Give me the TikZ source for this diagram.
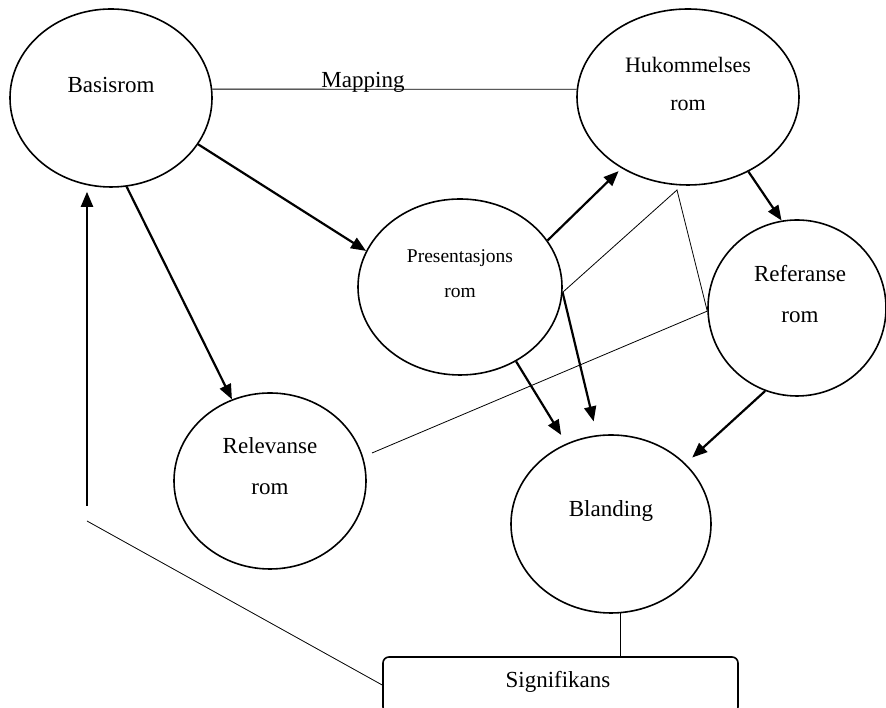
\documentclass[tikz,border=0pt]{standalone}
\usepackage{fontspec}
\setmainfont{Liberation Serif}
\usetikzlibrary{arrows.meta,shapes.geometric}
\begin{document}
\begin{tikzpicture}[x=1pt,y=1pt,
  blob/.style={draw, ellipse, line width=1.6pt, inner sep=0pt},
  lbl/.style={font=\fontsize{23}{41}\selectfont, align=center, anchor=base, inner sep=0pt},
  arr/.style={line width=2.2pt, -{Triangle[length=15pt,width=12pt]}},
  thinline/.style={line width=0.8pt}
]
\useasboundingbox (0,0) rectangle (886,708);
\fill[white] (0,0) rectangle (886,708);
% ellipses
\node[blob, minimum width=202pt, minimum height=178pt] (basis) at (111,610) {};
\node[blob, minimum width=222pt, minimum height=176pt] (huk) at (688,611) {};
\node[blob, minimum width=204pt, minimum height=176pt] (pres) at (460,421) {};
\node[blob, minimum width=178pt, minimum height=176pt] (ref) at (797,400) {};
\node[blob, minimum width=192pt, minimum height=176pt] (relev) at (270,227) {};
\node[blob, minimum width=200pt, minimum height=178pt] (bland) at (611,184) {};
\node[draw, rounded corners=6pt, line width=1.6pt, minimum width=355pt, minimum height=56pt, inner sep=0pt] (sig) at (560.5,23) {};
% texts (base = baseline of last line)
\node[lbl] (basis-t) at (111,615) {Basisrom};
\node[lbl] (map-t) at (363,620) {Mapping};
\node[lbl, font=\fontsize{22}{38}\selectfont] (huk-t) at (688,597) {Hukommelses\\rom};
\node[lbl, font=\fontsize{19.5}{35}\selectfont] (pres-t) at (460,410) {Presentasjons\\rom};
\node[lbl] (ref-t) at (800,385) {Referanse\\rom};
\node[lbl] (relev-t) at (270,213) {Relevanse\\rom};
\node[lbl] (bland-t) at (611,191) {Blanding};
\node[lbl] (sig-t) at (558,20) {Signifikans};
% free ends
\coordinate (upstart) at (87,202);
\coordinate (lowstart) at (87,187);
\coordinate (hukfoot) at (677,518);
\coordinate (relevpt) at (372,255);
% connectors
\draw[thinline] (basis.5) -- (huk.176);
\draw[arr] (basis.-28) -- (pres.159);
\draw[arr] (basis.-80) -- (relev.115);
\draw[arr, shorten >=4pt] (upstart) -- (upstart |- basis.south);
\draw[arr, shorten >=4pt] (pres.28) -- (huk.227);
\draw[arr] (huk.-51) -- (ref.100);
\draw[arr, shorten >=14pt] (pres.-3) -- (bland.99);
\draw[arr, shorten >=10pt] (pres.-53) -- (bland.119);
\draw[arr, shorten >=9pt] (ref.249) -- (bland.39);
\draw[thinline] (pres.-3) -- (hukfoot) -- (ref.182) -- (relevpt);
\draw[thinline] (bland.-84) -- (bland.-84 |- sig.north);
\draw[thinline] (lowstart) -- (sig.west);
\end{tikzpicture}
\end{document}
